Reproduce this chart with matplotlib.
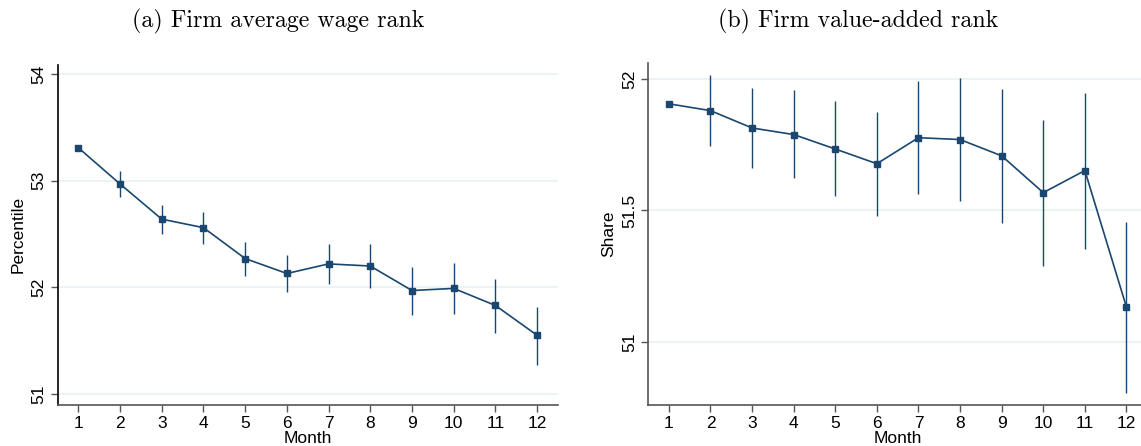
import matplotlib
matplotlib.use("Agg")
import matplotlib.pyplot as plt
import numpy as np

months = np.arange(1, 13)

# (a) firm average wage rank
wage_est = [53.31, 52.97, 52.64, 52.56, 52.27, 52.13, 52.22, 52.20, 51.97, 51.99, 51.83, 51.55]
wage_hi = [np.nan, 53.09, 52.77, 52.71, 52.43, 52.30, 52.41, 52.41, 52.19, 52.23, 52.08, 51.82]
wage_lo = [np.nan, 52.85, 52.50, 52.41, 52.11, 51.96, 52.03, 51.99, 51.74, 51.75, 51.57, 51.27]
wage_ticks = [51, 52, 53, 54]

# (b) firm value-added rank
va_est = [51.906, 51.880, 51.814, 51.789, 51.734, 51.678, 51.777, 51.770, 51.708, 51.568, 51.652, 51.132]
va_hi = [np.nan, 52.016, 51.966, 51.957, 51.916, 51.876, 51.994, 52.003, 51.961, 51.843, 51.948, 51.456]
va_lo = [np.nan, 51.746, 51.663, 51.624, 51.554, 51.478, 51.563, 51.535, 51.453, 51.290, 51.354, 50.804]
va_ticks = [51, 51.5, 52]
va_ticklabels = ["51", "51.5", "52"]

NAVY = "#1a476f"
GRID = "#eaf0f2"
SANS = ["Liberation Sans", "DejaVu Sans"]

plt.rcParams["font.family"] = SANS

fig = plt.figure(figsize=(11.41, 4.46), dpi=100)


def panel(rect, est, lo, hi, ylim, ticks, ticklabels, ylabel, title, title_x):
    ax = fig.add_axes(rect)
    ax.vlines(months, lo, hi, color=NAVY, linewidth=1.0, zorder=2)
    ax.plot(months, est, color=NAVY, linewidth=1.2, marker="s",
            markersize=4, zorder=3)
    ax.set_xlim(0.5, 12.5)
    ax.set_ylim(*ylim)
    ax.set_xticks(months)
    ax.set_yticks(ticks)
    ax.set_yticklabels(ticklabels, rotation=90, va="center")
    for t in ticks:
        ax.axhline(t, color=GRID, linewidth=1.2, zorder=1)
    for s in ["top", "right"]:
        ax.spines[s].set_visible(False)
    for s in ["left", "bottom"]:
        ax.spines[s].set_color("#555555")
        ax.spines[s].set_linewidth(1.2)
    ax.tick_params(direction="out", length=5, width=1, color="#555555",
                   labelsize=12.5, pad=3)
    ax.set_xlabel("Month", fontsize=12.5, labelpad=0)
    ax.set_ylabel(ylabel, fontsize=12.5, labelpad=4)
    fig.text(title_x, 0.952, title, family="cmr10", fontsize=17.2,
             ha="center", va="center")
    return ax


ax1 = panel([0.0504, 0.093, 0.4386, 0.762], wage_est, wage_lo, wage_hi,
            (50.90, 54.09), wage_ticks, [str(t) for t in wage_ticks],
            "Percentile", "(a) Firm average wage rank", 0.2435)
ax1.spines["left"].set_color("black")

ax2 = panel([0.568, 0.092, 0.4375, 0.766], va_est, va_lo, va_hi,
            (50.76, 52.06), va_ticks, va_ticklabels,
            "Share", "(b) Firm value-added rank", 0.752)

fig.savefig("out.png", dpi=100)
